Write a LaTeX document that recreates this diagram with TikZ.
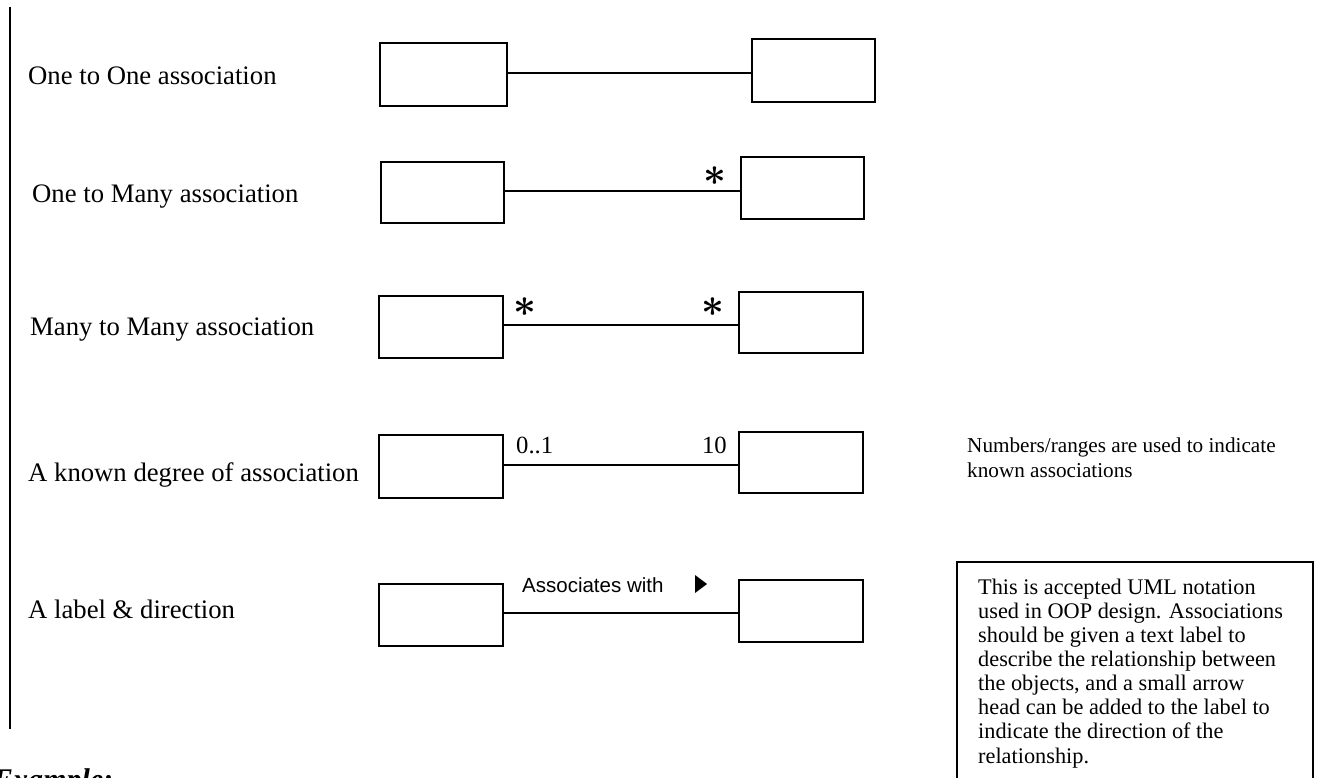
\documentclass[tikz,border=0pt]{standalone}
\usepackage{fontspec}
\setmainfont{Liberation Serif}
\newfontfamily\arialfont{Liberation Sans}
\newcommand{\multstar}{\scalebox{1.6}{\boldmath$\ast$}}
\begin{document}
\begin{tikzpicture}[x=1pt,y=-1pt,
  cls/.style={draw, line width=2pt, rectangle, inner sep=0pt},
  link/.style={line width=1.4pt},
  rowlabel/.style={font=\fontsize{26.7}{32}\selectfont, anchor=base west, inner sep=0pt},
  mult/.style={font=\fontsize{24}{24}\selectfont, inner sep=0pt, anchor=center},
  numlabel/.style={font=\fontsize{24.7}{28}\selectfont, inner sep=0pt},
  notetext/.style={font=\fontsize{22.3}{24}\selectfont, anchor=base west, inner sep=0pt}]
\useasboundingbox (0,0) rectangle (1320,778);
\clip (0,0) rectangle (1320,778);

% margin rule
\coordinate (ruleTop) at (10,7);
\coordinate (ruleBot) at (10,729);
\draw[line width=2pt] (ruleTop) -- (ruleBot);

% row captions
\node[rowlabel] (t1) at (28,85)  {One to One association};
\node[rowlabel] (t2) at (32,203) {One to Many association};
\node[rowlabel] (t3) at (30,335) {Many to Many association};
\node[rowlabel] (t4) at (28,481) {A known degree of association};
\node[rowlabel] (t5) at (28,618) {A label \& direction};

% class boxes
\node[cls, minimum width=127, minimum height=63] (L1) at (443.5,74.5) {};
\node[cls, minimum width=123, minimum height=63] (R1) at (813.5,70.5) {};
\node[cls, minimum width=123, minimum height=61] (L2) at (442.5,192.5) {};
\node[cls, minimum width=123, minimum height=62] (R2) at (802.5,188) {};
\node[cls, minimum width=124, minimum height=62] (L3) at (441,327) {};
\node[cls, minimum width=124, minimum height=61] (R3) at (801,322.5) {};
\node[cls, minimum width=124, minimum height=63] (L4) at (441,466.5) {};
\node[cls, minimum width=124, minimum height=61] (R4) at (801,462.5) {};
\node[cls, minimum width=124, minimum height=62] (L5) at (441,615) {};
\node[cls, minimum width=124, minimum height=62] (R5) at (801,611) {};

% association lines
\coordinate (m1) at (0,73);
\coordinate (m2) at (0,191);
\coordinate (m3) at (0,325);
\coordinate (m4) at (0,465);
\coordinate (m5) at (0,613);
\draw[link] (L1.east |- m1) -- (R1.west |- m1);
\draw[link] (L2.east |- m2) -- (R2.west |- m2);
\draw[link] (L3.east |- m3) -- (R3.west |- m3);
\draw[link] (L4.east |- m4) -- (R4.west |- m4);
\draw[link] (L5.east |- m5) -- (R5.west |- m5);

% multiplicities
\node[mult] (s2) at (715,176) {\multstar};
\node[mult] (s3a) at (525,307) {\multstar};
\node[mult] (s3b) at (713,307) {\multstar};
\node[numlabel, anchor=base west] (n4a) at (516,453) {0..1};
\node[numlabel, anchor=base east] (n4b) at (727,453) {10};

% label with direction marker
\node[font=\arialfont\fontsize{20.5}{24}\selectfont, anchor=base west, inner sep=0pt] (lab5) at (522,592) {Associates with};
\fill (695,575) -- (707,584) -- (695,593) -- cycle;

% side notes
\node[font=\fontsize{21.2}{25}\selectfont, anchor=base west, inner sep=0pt] (n1) at (967,452) {Numbers/ranges are used to indicate};
\node[font=\fontsize{21.2}{25}\selectfont, anchor=base west, inner sep=0pt] (n2) at (967,477) {known associations};

\node[draw, line width=1.6pt, minimum width=356, minimum height=260, inner sep=0pt] (note) at (1135,692) {};
\foreach \txt [count=\i from 0] in {This is accepted UML notation,
  used in OOP design. Associations,
  should be given a text label to,
  describe the relationship between,
  {the objects, and a small arrow},
  head can be added to the label to,
  indicate the direction of the,
  relationship.}
  \node[notetext] at (978,594+24.15*\i) {\txt};

% section heading
\node[font=\bfseries\itshape\fontsize{30}{32}\selectfont, anchor=base west, inner sep=0pt] (ex) at (-7,789) {Example:};
\end{tikzpicture}
\end{document}
